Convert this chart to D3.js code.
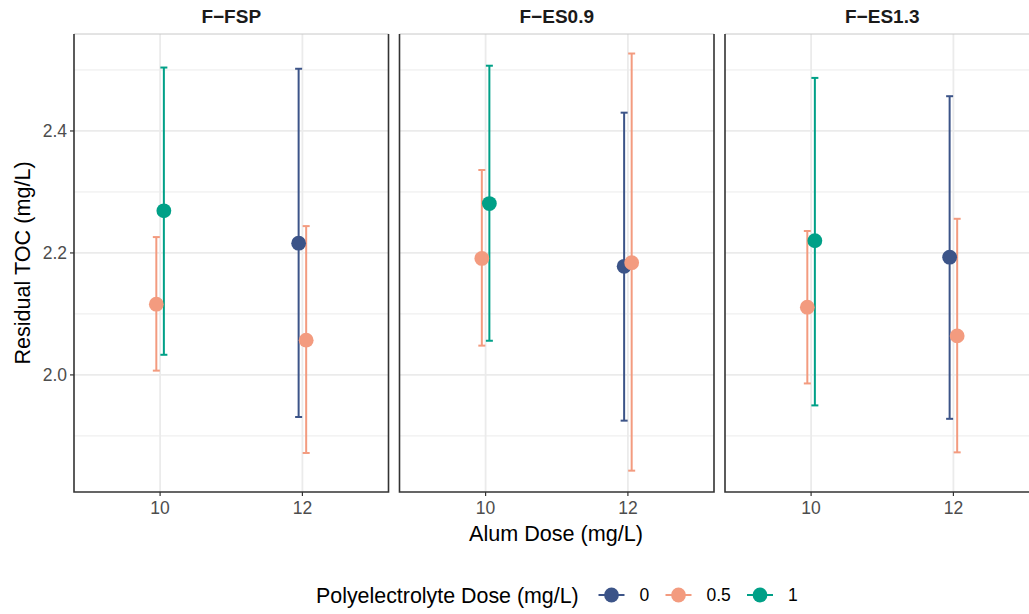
<!DOCTYPE html>
<html>
<head>
<meta charset="utf-8">
<script src="https://cdn.jsdelivr.net/npm/d3@7"></script>
<style>
  body { margin: 0; background: #fff; }
  svg { font-family: "Liberation Sans", Arial, sans-serif; display: block; }
</style>
</head>
<body>
<svg id="chart" width="1029" height="614"></svg>
<script>
// facets, groups and values
var facets = ["F\u2212FSP", "F\u2212ES0.9", "F\u2212ES1.3"];
var polyLevels = ["0", "0.5", "1"];
var polyColors = ["#3C5488", "#F39B7F", "#00A087"];

var facetOf  = [0, 0, 0, 0, 1, 1, 1, 1, 2, 2, 2, 2];
var alumDose = [10, 10, 12, 12, 10, 10, 12, 12, 10, 10, 12, 12];
var polyDose = ["0.5", "1", "0", "0.5", "0.5", "1", "0", "0.5", "0.5", "1", "0", "0.5"];
var meanToc  = [2.116, 2.269, 2.216, 2.057, 2.191, 2.281, 2.178, 2.184, 2.111, 2.220, 2.193, 2.064];
var lowerToc = [2.007, 2.033, 1.931, 1.872, 2.048, 2.056, 1.925, 1.843, 1.986, 1.950, 1.928, 1.873];
var upperToc = [2.226, 2.504, 2.502, 2.244, 2.336, 2.507, 2.430, 2.527, 2.236, 2.487, 2.457, 2.256];

var yTicks = [2.0, 2.2, 2.4];
var yMinor = [1.9, 2.1, 2.3, 2.5];
var xTicks = [10, 12];

var svg = d3.select("#chart");

var panelW = 314.5, panelH = 458, panelTop = 34, panelLeft = 74, panelStep = 325.5;
var dodge = 0.053;

var x = d3.scaleLinear().domain([8.79, 13.21]).range([0, panelW]);
var y = d3.scaleLinear().domain([1.808, 2.559]).range([panelH, 0]);
var color = d3.scaleOrdinal().domain(polyLevels).range(polyColors);

var rows = facetOf.map(function (f, i) {
    return { facet: f, dose: alumDose[i], poly: polyDose[i],
             mean: meanToc[i], lo: lowerToc[i], hi: upperToc[i] };
});

// dodge groups sharing a facet and dose
d3.group(rows, function (d) { return d.facet + "_" + d.dose; }).forEach(function (g) {
    g.sort(function (a, b) { return polyLevels.indexOf(a.poly) - polyLevels.indexOf(b.poly); });
    g.forEach(function (d, i) {
        d.xp = d.dose + (g.length > 1 ? (i === 0 ? -dodge : dodge) : 0);
    });
});

facets.forEach(function (name, fi) {
    var p = svg.append("g")
        .attr("transform", "translate(" + (panelLeft + fi * panelStep) + "," + panelTop + ")");

    p.selectAll(".minor").data(yMinor).enter().append("line")
        .attr("x1", 0).attr("x2", panelW)
        .attr("y1", function (d) { return y(d); }).attr("y2", function (d) { return y(d); })
        .attr("stroke", "#EBEBEB").attr("stroke-width", 1);
    p.selectAll(".major").data(yTicks).enter().append("line")
        .attr("x1", 0).attr("x2", panelW)
        .attr("y1", function (d) { return y(d); }).attr("y2", function (d) { return y(d); })
        .attr("stroke", "#EBEBEB").attr("stroke-width", 1.8);
    p.selectAll(".vmajor").data(xTicks).enter().append("line")
        .attr("y1", 0).attr("y2", panelH)
        .attr("x1", function (d) { return x(d); }).attr("x2", function (d) { return x(d); })
        .attr("stroke", "#EBEBEB").attr("stroke-width", 1.8);

    var data = rows.filter(function (d) { return d.facet === fi; });

    var bars = p.selectAll(".bar").data(data).enter().append("g")
        .attr("stroke", function (d) { return color(d.poly); })
        .attr("stroke-width", 2);
    bars.append("line")
        .attr("x1", function (d) { return x(d.xp); }).attr("x2", function (d) { return x(d.xp); })
        .attr("y1", function (d) { return y(d.lo); }).attr("y2", function (d) { return y(d.hi); });
    bars.append("line")
        .attr("x1", function (d) { return x(d.xp) - 3.5; }).attr("x2", function (d) { return x(d.xp) + 3.5; })
        .attr("y1", function (d) { return y(d.hi); }).attr("y2", function (d) { return y(d.hi); });
    bars.append("line")
        .attr("x1", function (d) { return x(d.xp) - 3.5; }).attr("x2", function (d) { return x(d.xp) + 3.5; })
        .attr("y1", function (d) { return y(d.lo); }).attr("y2", function (d) { return y(d.lo); });

    p.selectAll(".pt").data(data.slice().sort(function (a, b) {
            return polyLevels.indexOf(a.poly) - polyLevels.indexOf(b.poly); }))
        .enter().append("circle")
        .attr("cx", function (d) { return x(d.xp); })
        .attr("cy", function (d) { return y(d.mean); })
        .attr("r", 7.4)
        .attr("fill", function (d) { return color(d.poly); });

    // border: light top, dark sides and bottom
    p.append("line").attr("x1", 0).attr("x2", panelW).attr("y1", 0).attr("y2", 0)
        .attr("stroke", "#C8C8C8").attr("stroke-width", 1);
    p.append("path")
        .attr("d", "M0,0V" + panelH + "H" + panelW + "V0")
        .attr("fill", "none").attr("stroke", "#333333").attr("stroke-width", 1.6);

    // x axis
    p.selectAll(".xt").data(xTicks).enter().append("line")
        .attr("x1", function (d) { return x(d); }).attr("x2", function (d) { return x(d); })
        .attr("y1", panelH).attr("y2", panelH + 4)
        .attr("stroke", "#333333").attr("stroke-width", 1.2);
    p.selectAll(".xl").data(xTicks).enter().append("text")
        .attr("x", function (d) { return x(d); })
        .attr("y", panelH + 22)
        .attr("text-anchor", "middle")
        .attr("font-size", 17.5).attr("fill", "#4D4D4D")
        .text(function (d) { return d; });

    // strip
    p.append("text")
        .attr("x", panelW / 2).attr("y", -11)
        .attr("text-anchor", "middle")
        .attr("font-size", 19).attr("font-weight", "bold").attr("fill", "#1A1A1A")
        .text(name);

    if (fi === 0) {
        p.selectAll(".yt").data(yTicks).enter().append("line")
            .attr("x1", -4).attr("x2", 0)
            .attr("y1", function (d) { return y(d); }).attr("y2", function (d) { return y(d); })
            .attr("stroke", "#333333").attr("stroke-width", 1.2);
        p.selectAll(".yl").data(yTicks).enter().append("text")
            .attr("x", -7).attr("y", function (d) { return y(d); })
            .attr("dy", "0.36em")
            .attr("text-anchor", "end")
            .attr("font-size", 17.5).attr("fill", "#4D4D4D")
            .text(d3.format(".1f"));
    }
});

// axis titles
svg.append("text")
    .attr("x", 556).attr("y", 541)
    .attr("text-anchor", "middle")
    .attr("font-size", 21.6).attr("fill", "#000")
    .text("Alum Dose (mg/L)");
svg.append("text")
    .attr("transform", "translate(30," + (panelTop + panelH / 2) + ") rotate(-90)")
    .attr("text-anchor", "middle")
    .attr("font-size", 21.6).attr("fill", "#000")
    .text("Residual TOC (mg/L)");

// legend
var legend = svg.append("g").attr("transform", "translate(0,595)");
legend.append("text")
    .attr("x", 316).attr("dy", "0.36em")
    .attr("font-size", 21.4).attr("fill", "#000")
    .text("Polyelectrolyte Dose (mg/L)");
var keyX = [611.5, 678.5, 760];
var keys = legend.selectAll(".key").data(polyLevels).enter().append("g")
    .attr("transform", function (d, i) { return "translate(" + keyX[i] + ",0)"; });
keys.append("line")
    .attr("x1", -13).attr("x2", 13)
    .attr("stroke", function (d) { return color(d); }).attr("stroke-width", 2);
keys.append("circle").attr("r", 7.4).attr("fill", function (d) { return color(d); });
keys.append("text")
    .attr("x", 28).attr("dy", "0.36em")
    .attr("font-size", 17.5).attr("fill", "#000")
    .text(function (d) { return d; });
</script>
</body>
</html>
